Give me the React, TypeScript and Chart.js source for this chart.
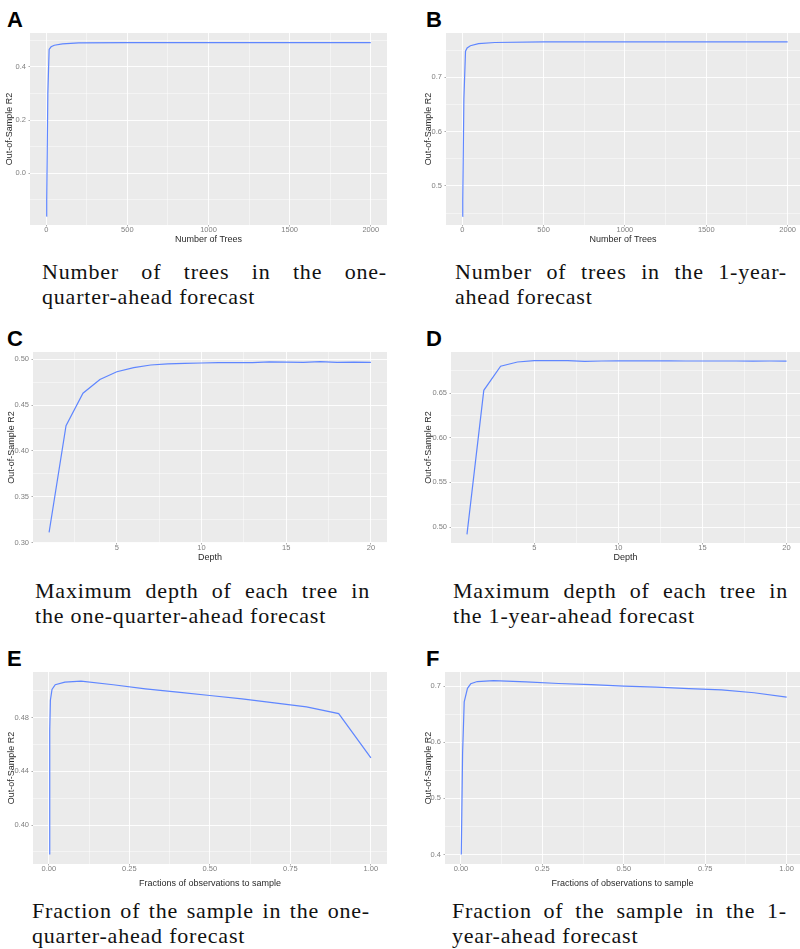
import React, { useEffect, useRef } from "react";
import { Chart, registerables } from "chart.js";
Chart.register(...registerables);

// ---------- data ----------
// A: number of trees, one-quarter-ahead
const treesQuarter = [1, 3, 10, 18, 30, 50, 100, 200, 500, 1000, 1500, 2000];
const r2TreesQuarter = [-0.162, -0.1, 0.3, 0.466, 0.476, 0.482, 0.487, 0.491, 0.492, 0.492, 0.492, 0.492];
// B: number of trees, 1-year-ahead
const treesYear = [1, 3, 10, 20, 30, 50, 100, 200, 500, 1000, 1500, 2000];
const r2TreesYear = [0.444, 0.474, 0.66, 0.748, 0.754, 0.758, 0.762, 0.764, 0.765, 0.765, 0.765, 0.765];
// C / D: maximum depth
const depthValues = [1, 2, 3, 4, 5, 6, 7, 8, 9, 10, 11, 12, 13, 14, 15, 16, 17, 18, 19, 20];
const r2DepthQuarter = [0.311, 0.4275, 0.463, 0.478, 0.4865, 0.491, 0.4938, 0.495, 0.4955, 0.496, 0.4965, 0.4965, 0.4965, 0.4972, 0.497, 0.4966, 0.4975, 0.4967, 0.497, 0.4966];
const r2DepthYear = [0.4918, 0.653, 0.68, 0.6847, 0.6862, 0.6862, 0.6862, 0.6855, 0.6858, 0.686, 0.686, 0.686, 0.686, 0.6858, 0.6858, 0.6858, 0.6858, 0.6857, 0.6858, 0.6856];
// E: fraction of sample, one-quarter-ahead
const fracQuarter = [0.001, 0.003, 0.005, 0.01, 0.02, 0.05, 0.1, 0.2, 0.3, 0.4, 0.5, 0.6, 0.7, 0.8, 0.9, 1.0];
const r2FracQuarter = [0.3786, 0.47, 0.493, 0.501, 0.5045, 0.5065, 0.5072, 0.5045, 0.5015, 0.499, 0.4965, 0.494, 0.491, 0.488, 0.483, 0.45];
// F: fraction of sample, 1-year-ahead
const fracYear = [0.001, 0.005, 0.01, 0.02, 0.03, 0.05, 0.1, 0.2, 0.3, 0.4, 0.5, 0.6, 0.7, 0.8, 0.9, 1.0];
const r2FracYear = [0.4, 0.58, 0.672, 0.696, 0.704, 0.708, 0.7095, 0.7075, 0.7045, 0.7025, 0.7, 0.698, 0.6955, 0.693, 0.688, 0.6804];

// tick labels / breaks
const treeTicks = [0, 500, 1000, 1500, 2000];
const treeMinor = [250, 750, 1250, 1750];
const depthTicks = [5, 10, 15, 20];
const depthMinor = [2.5, 7.5, 12.5, 17.5];
const fracTicks = [0, 0.25, 0.5, 0.75, 1.0];
const fracMinor = [0.125, 0.375, 0.625, 0.875];
const yTicksA = [0.0, 0.2, 0.4];
const yMinorA = [-0.1, 0.1, 0.3, 0.5];
const yTicksB = [0.5, 0.6, 0.7];
const yMinorB = [0.45, 0.55, 0.65, 0.75];
const yTicksC = [0.3, 0.35, 0.4, 0.45, 0.5];
const yMinorC = [0.325, 0.375, 0.425, 0.475];
const yTicksD = [0.5, 0.55, 0.6, 0.65];
const yMinorD = [0.525, 0.575, 0.625, 0.675];
const yTicksE = [0.4, 0.44, 0.48];
const yMinorE = [0.38, 0.42, 0.46, 0.5];
const yTicksF = [0.4, 0.5, 0.6, 0.7];
const yMinorF = [0.45, 0.55, 0.65];

const yTitle = "Out-of-Sample R2";
const xTitleTrees = "Number of Trees";
const xTitleDepth = "Depth";
const xTitleFrac = "Fractions of observations to sample";

type Spec = {
  letter: string;
  xs: number[];
  ys: number[];
  xMin: number; xMax: number; yMin: number; yMax: number;
  xMajor: number[]; xMinor: number[]; yMajor: number[]; yMinor: number[];
  xDigits: number; yDigits: number;
  xTitle: string;
  plotLeft: number; plotRight: number; plotTop: number; plotBottom: number;
  yTitleX: number; xTitleY: number;
  letterX: number; letterTop: number;
  caption: [string, string];
  capLeft: number; capRight: number; capBaseline: number;
};

const specs: Spec[] = [
  {
    letter: "A", xs: treesQuarter, ys: r2TreesQuarter,
    xMin: -99.95, xMax: 2099.95, yMin: -0.195, yMax: 0.528,
    xMajor: treeTicks, xMinor: treeMinor, yMajor: yTicksA, yMinor: yMinorA,
    xDigits: 0, yDigits: 1, xTitle: xTitleTrees,
    plotLeft: 30, plotRight: 387, plotTop: 33, plotBottom: 225,
    yTitleX: 10, xTitleY: 239.5, letterX: 7, letterTop: 9,
    caption: ["Number of trees in the one-", "quarter-ahead forecast"],
    capLeft: 42, capRight: 387, capBaseline: 279,
  },
  {
    letter: "B", xs: treesYear, ys: r2TreesYear,
    xMin: -99.95, xMax: 2076, yMin: 0.428, yMax: 0.7815,
    xMajor: treeTicks, xMinor: treeMinor, yMajor: yTicksB, yMinor: yMinorB,
    xDigits: 0, yDigits: 1, xTitle: xTitleTrees,
    plotLeft: 446, plotRight: 800, plotTop: 33, plotBottom: 225,
    yTitleX: 428.5, xTitleY: 239.5, letterX: 426, letterTop: 9,
    caption: ["Number of trees in the 1-year-", "ahead forecast"],
    capLeft: 455, capRight: 787, capBaseline: 279,
  },
  {
    letter: "C", xs: depthValues, ys: r2DepthQuarter,
    xMin: 0.05, xMax: 20.95, yMin: 0.2995, yMax: 0.508,
    xMajor: depthTicks, xMinor: depthMinor, yMajor: yTicksC, yMinor: yMinorC,
    xDigits: 0, yDigits: 2, xTitle: xTitleDepth,
    plotLeft: 33, plotRight: 387, plotTop: 352, plotBottom: 543,
    yTitleX: 11.5, xTitleY: 557.5, letterX: 7, letterTop: 328,
    caption: ["Maximum depth of each tree in", "the one-quarter-ahead forecast"],
    capLeft: 35, capRight: 370, capBaseline: 598,
  },
  {
    letter: "D", xs: depthValues, ys: r2DepthYear,
    xMin: 0.05, xMax: 20.8, yMin: 0.4821, yMax: 0.6959,
    xMajor: depthTicks, xMinor: depthMinor, yMajor: yTicksD, yMinor: yMinorD,
    xDigits: 0, yDigits: 2, xTitle: xTitleDepth,
    plotLeft: 450.5, plotRight: 800, plotTop: 352, plotBottom: 543,
    yTitleX: 428.5, xTitleY: 557.5, letterX: 426, letterTop: 328,
    caption: ["Maximum depth of each tree in", "the 1-year-ahead forecast"],
    capLeft: 453, capRight: 788, capBaseline: 598,
  },
  {
    letter: "E", xs: fracQuarter, ys: r2FracQuarter,
    xMin: -0.049, xMax: 1.05, yMin: 0.371, yMax: 0.514,
    xMajor: fracTicks, xMinor: fracMinor, yMajor: yTicksE, yMinor: yMinorE,
    xDigits: 2, yDigits: 2, xTitle: xTitleFrac,
    plotLeft: 33, plotRight: 387, plotTop: 672, plotBottom: 864,
    yTitleX: 11.5, xTitleY: 884, letterX: 7, letterTop: 648,
    caption: ["Fraction of the sample in the one-", "quarter-ahead forecast"],
    capLeft: 32, capRight: 370, capBaseline: 918,
  },
  {
    letter: "F", xs: fracYear, ys: r2FracYear,
    xMin: -0.049, xMax: 1.041, yMin: 0.383, yMax: 0.725,
    xMajor: fracTicks, xMinor: fracMinor, yMajor: yTicksF, yMinor: yMinorF,
    xDigits: 2, yDigits: 1, xTitle: xTitleFrac,
    plotLeft: 445, plotRight: 800, plotTop: 672, plotBottom: 864,
    yTitleX: 428.5, xTitleY: 884, letterX: 426, letterTop: 648,
    caption: ["Fraction of the sample in the 1-", "year-ahead forecast"],
    capLeft: 452, capRight: 787, capBaseline: 918,
  },
];

const panelBackground = {
  id: "panelBackground",
  beforeDraw(chart: any) {
    const { ctx, chartArea } = chart;
    if (!chartArea) return;
    ctx.save();
    ctx.fillStyle = "#EBEBEB";
    ctx.fillRect(chartArea.left, chartArea.top, chartArea.right - chartArea.left, chartArea.bottom - chartArea.top);
    ctx.restore();
  },
};

function buildTicks(major: number[], minor: number[], min: number, max: number) {
  const eps = 1e-9;
  const all = [
    ...major.map((v) => ({ value: v, minor: false })),
    ...minor.map((v) => ({ value: v, minor: true })),
  ].filter((t) => t.value >= min - eps && t.value <= max + eps);
  all.sort((a, b) => a.value - b.value);
  return all;
}

const TICK_FONT = { family: "'Liberation Sans', Arial, sans-serif", size: 7.5, lineHeight: 1 };
const TITLE_FONT = { family: "'Liberation Sans', Arial, sans-serif", size: 9 };

function Panel({ s }: { s: Spec }) {
  const ref = useRef<HTMLCanvasElement | null>(null);
  const canvasLeft = s.plotLeft - 30;
  const canvasTop = s.plotTop - 8;
  const canvasRight = Math.min(800, s.plotRight + 10);
  const canvasBottom = Math.round(s.xTitleY + 5.4 + 1);
  const W = canvasRight - canvasLeft;
  const H = canvasBottom - canvasTop;

  useEffect(() => {
    if (!ref.current) return;
    const gridCommon = {
      color: "#FFFFFF",
      lineWidth: (ctx: any) => (ctx.tick && ctx.tick.minor ? 0.45 : 0.9),
      tickColor: (ctx: any) => (ctx.tick && ctx.tick.minor ? "rgba(0,0,0,0)" : "#777777"),
      tickLength: 1.5,
      tickWidth: 0.6,
      drawTicks: true,
    };
    const chart = new Chart(ref.current, {
      type: "line",
      data: {
        datasets: [
          {
            data: s.xs.map((x, i) => ({ x, y: s.ys[i] })),
            borderColor: "#5f86ff",
            borderWidth: 1.2,
            pointRadius: 0,
            tension: 0,
            fill: false,
          },
        ],
      },
      options: {
        animation: false,
        responsive: false,
        devicePixelRatio: 1,
        events: [],
        layout: {
          autoPadding: false,
          padding: { left: 0, top: 8, right: canvasRight - s.plotRight, bottom: 0 },
        },
        plugins: { legend: { display: false }, tooltip: { enabled: false } },
        scales: {
          x: {
            type: "linear",
            min: s.xMin,
            max: s.xMax,
            bounds: "data",
            afterBuildTicks: (scale: any) => {
              scale.ticks = buildTicks(s.xMajor, s.xMinor, s.xMin, s.xMax);
            },
            afterFit: (scale: any) => {
              scale.height = canvasBottom - s.plotBottom;
            },
            grid: gridCommon,
            border: { display: false },
            ticks: {
              autoSkip: false,
              maxRotation: 0,
              padding: 0,
              color: "#808080",
              font: TICK_FONT,
              callback: (value: any, index: number, ticks: any[]) =>
                ticks[index] && ticks[index].minor ? "" : Number(value).toFixed(s.xDigits),
            },
            title: {
              display: true,
              text: s.xTitle,
              color: "#2a2a2a",
              font: TITLE_FONT,
              padding: { top: 0, bottom: 1 },
            },
          },
          y: {
            type: "linear",
            min: s.yMin,
            max: s.yMax,
            bounds: "data",
            afterBuildTicks: (scale: any) => {
              scale.ticks = buildTicks(s.yMajor, s.yMinor, s.yMin, s.yMax);
            },
            afterFit: (scale: any) => {
              scale.width = 30;
            },
            grid: gridCommon,
            border: { display: false },
            ticks: {
              autoSkip: false,
              padding: 2.5,
              color: "#808080",
              font: TICK_FONT,
              callback: (value: any, index: number, ticks: any[]) =>
                ticks[index] && ticks[index].minor ? "" : Number(value).toFixed(s.yDigits),
            },
            title: {
              display: true,
              text: yTitle,
              color: "#2a2a2a",
              font: TITLE_FONT,
              padding: { top: s.yTitleX - canvasLeft - 5.4, bottom: 0 },
            },
          },
        },
      } as any,
      plugins: [panelBackground],
    });
    return () => chart.destroy();
  }, []);

  const capFont: React.CSSProperties = {
    position: "absolute",
    left: s.capLeft,
    width: s.capRight - s.capLeft,
    fontFamily: "'Liberation Serif', 'Times New Roman', serif",
    fontSize: 22,
    lineHeight: "25px",
    letterSpacing: "0.8px",
    color: "#111",
    margin: 0,
  };
  const capTop = s.capBaseline - 20;

  return (
    <>
      <div
        style={{
          position: "absolute",
          left: s.letterX,
          top: s.letterTop,
          fontFamily: "'Liberation Sans', Arial, sans-serif",
          fontWeight: "bold",
          fontSize: 22,
          lineHeight: "22px",
          color: "#000",
        }}
      >
        {s.letter}
      </div>
      <canvas
        ref={ref}
        width={W}
        height={H}
        style={{ position: "absolute", left: canvasLeft, top: canvasTop, width: W, height: H }}
      />
      <div style={{ ...capFont, top: capTop, textAlign: "justify", textAlignLast: "justify" } as React.CSSProperties}>
        {s.caption[0]}
      </div>
      <div style={{ ...capFont, top: capTop + 24.5, textAlign: "left" }}>{s.caption[1]}</div>
    </>
  );
}

export default function App() {
  return (
    <div
      style={{
        position: "absolute",
        left: 0,
        top: 0,
        width: 800,
        height: 949,
        overflow: "hidden",
        background: "#ffffff",
      }}
    >
      {specs.map((s) => (
        <Panel key={s.letter} s={s} />
      ))}
    </div>
  );
}
